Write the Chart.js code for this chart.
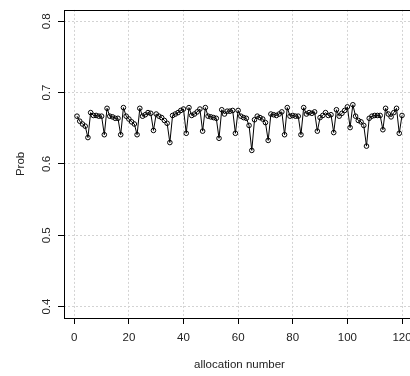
<!DOCTYPE html>
<html>
<head>
<meta charset="utf-8">
<script src="https://cdn.jsdelivr.net/npm/chart.js@4"></script>
<style>
  html, body { margin: 0; padding: 0; background: #fff; overflow: hidden; }
  #wrap { width: 410px; height: 376px; overflow: hidden; }
</style>
</head>
<body>
<div id="wrap"><canvas id="c" width="420" height="376"></canvas></div>
<script>
// probability per allocation (allocation number = position + 1)
const prob = [
  0.667, 0.660, 0.656, 0.653, 0.637, 0.672, 0.668, 0.668, 0.667, 0.667,
  0.641, 0.678, 0.667, 0.666, 0.664, 0.664, 0.641, 0.679, 0.667, 0.663,
  0.659, 0.656, 0.641, 0.678, 0.667, 0.669, 0.672, 0.671, 0.647, 0.670,
  0.667, 0.665, 0.661, 0.657, 0.630, 0.668, 0.670, 0.672, 0.675, 0.677,
  0.643, 0.679, 0.668, 0.670, 0.673, 0.677, 0.646, 0.679, 0.667, 0.666,
  0.665, 0.664, 0.636, 0.676, 0.670, 0.674, 0.674, 0.675, 0.643, 0.675,
  0.667, 0.665, 0.664, 0.654, 0.619, 0.662, 0.667, 0.665, 0.663, 0.658,
  0.633, 0.670, 0.669, 0.668, 0.670, 0.673, 0.641, 0.679, 0.667, 0.668,
  0.667, 0.667, 0.641, 0.679, 0.670, 0.672, 0.671, 0.673, 0.646, 0.665,
  0.668, 0.672, 0.668, 0.669, 0.644, 0.676, 0.667, 0.671, 0.675, 0.680,
  0.651, 0.683, 0.667, 0.661, 0.659, 0.654, 0.625, 0.664, 0.667, 0.668,
  0.668, 0.668, 0.648, 0.678, 0.670, 0.666, 0.672, 0.678, 0.643, 0.668
];
const xTicks = [0, 20, 40, 60, 80, 100, 120];
const yTicks = [0.4, 0.5, 0.6, 0.7, 0.8];
const xLabel = "allocation number";
const yLabel = "Prob";

const points = prob.map((p, i) => ({x: i + 1, y: p}));

const font = {family: "'Liberation Sans', Arial, sans-serif", size: 11.5};
const ink = "#222";

// R style plot box around the plotting region
const boxPlugin = {
    id: "box",
    afterDraw(chart) {
        const {ctx, chartArea: a} = chart;
        ctx.save();
        ctx.strokeStyle = "#000";
        ctx.lineWidth = 1;
        ctx.strokeRect(Math.round(a.left) + 0.5, Math.round(a.top) + 0.5,
            Math.round(a.right - a.left), Math.round(a.bottom - a.top));
        ctx.restore();
    }
};

new Chart(document.getElementById("c").getContext("2d"), {
    type: "line",
    data: {
        datasets: [{
            data: points,
            borderColor: "#000",
            borderWidth: 1,
            tension: 0,
            pointRadius: 2.3,
            pointBorderWidth: 1,
            pointBorderColor: "#000",
            pointBackgroundColor: "rgba(0,0,0,0)",
        }]
    },
    options: {
        responsive: false,
        animation: false,
        layout: { padding: { top: 5, right: 3.2, left: 0, bottom: 0 } },
        plugins: { legend: { display: false }, tooltip: { enabled: false } },
        scales: {
            x: {
                type: "linear",
                min: -3.76,
                max: 124.76,
                afterBuildTicks: s => { s.ticks = xTicks.map(v => ({value: v})); },
                afterFit: s => { s.height = 58; },
                grid: { color: "#d3d3d3", lineWidth: 1, tickLength: 6, tickColor: "#000", tickBorderDash: [] },
                border: { display: false, dash: [2, 2] },
                ticks: { color: ink, font: font, padding: 7, maxRotation: 0, autoSkip: false, callback: v => String(v) },
                title: { display: true, text: xLabel, color: ink, font: font, padding: { top: 0, bottom: 4 } }
            },
            y: {
                min: 0.384,
                max: 0.816,
                afterBuildTicks: s => { s.ticks = yTicks.map(v => ({value: v})); },
                afterFit: s => { s.width = 64; },
                grid: { color: "#d3d3d3", lineWidth: 1, tickLength: 6, tickColor: "#000", tickBorderDash: [] },
                border: { display: false, dash: [2, 2] },
                ticks: { color: ink, font: font, padding: 3, minRotation: 90, maxRotation: 90, crossAlign: "center", autoSkip: false, callback: v => v.toFixed(1) },
                title: { display: true, text: yLabel, color: ink, font: font, padding: { top: 14, bottom: 0 } }
            }
        }
    },
    plugins: [boxPlugin]
});
</script>
</body>
</html>
